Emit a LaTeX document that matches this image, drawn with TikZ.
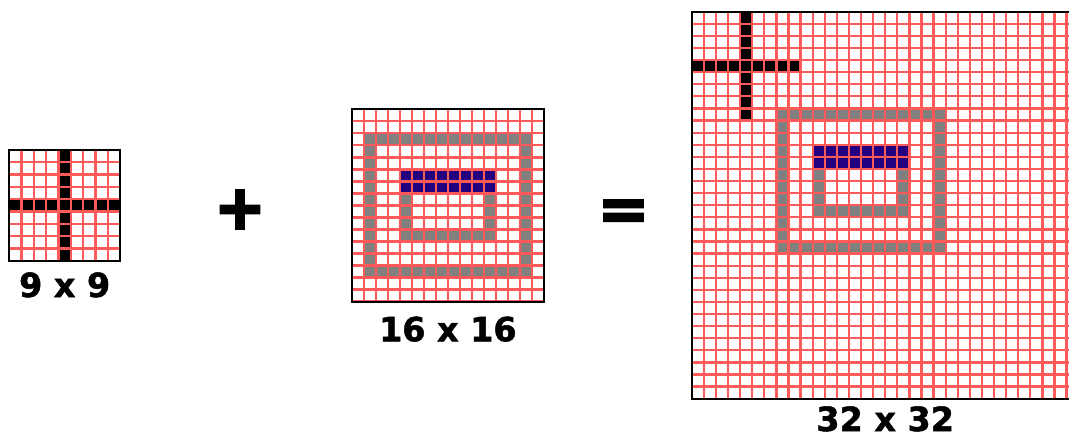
\documentclass[tikz,border=0pt]{standalone}
\usepackage{fontspec}
\setmainfont{DejaVu Sans}
\newfontfamily\labelfont[FakeBold=1.5]{DejaVu Sans Bold}
\newfontfamily\signfont[FakeBold=4]{DejaVu Sans Bold}
\usetikzlibrary{positioning}
\definecolor{gridred}{RGB}{255,90,90}
\definecolor{cellwhite}{RGB}{254,254,254}
\definecolor{ringgray}{RGB}{128,128,128}
\definecolor{barblue}{RGB}{34,0,128}

\newcommand{\crossmark}{%
  \foreach \k in {0,...,8} {
    \fill[black] (4,\k) rectangle ++(1,1);
    \fill[black] (\k,4) rectangle ++(1,1);
  }}
\newcommand{\framemark}{%
  \fill[ringgray] (1,2) rectangle (15,3) (1,13) rectangle (15,14)
                  (1,2) rectangle (2,14) (14,2) rectangle (15,14)
                  (4,7) rectangle (5,11) (11,7) rectangle (12,11)
                  (4,10) rectangle (12,11);
  \fill[barblue] (4,5) rectangle (12,7);}
\newcommand{\cellgrid}[1]{%
  \foreach \k in {0,...,#1} {
    \draw[cellline] (\k,0) -- (\k,#1);
    \draw[cellline] (0,\k) -- (#1,\k);
  }
  \draw[cellborder] (0,0) rectangle (#1,#1);}

\begin{document}
\begin{tikzpicture}[
      x=0.75pt, y=-0.75pt,
      cellline/.style={draw=gridred, line width=1.7pt},
      cellborder/.style={draw=black, line width=1.6pt},
      lbl/.style={inner sep=0pt, font=\fontsize{25}{28}\labelfont},
      sign/.style={inner sep=0pt, font=\fontsize{46}{50}\signfont}
    ]
    \useasboundingbox (0,0) rectangle (1069,436);
    \clip (0,0) rectangle (1069,436);

    \begin{scope}[shift={(9.3,150)}, x=9.225pt, y=-9.225pt]
      \fill[cellwhite] (0,0) rectangle (9,9);
      \crossmark
      \cellgrid{9}
      \coordinate (g9) at (4.5,9);
    \end{scope}

    \begin{scope}[shift={(351.7,109.3)}, x=9.015pt, y=-9.015pt]
      \fill[cellwhite] (0,0) rectangle (16,16);
      \framemark
      \cellgrid{16}
      \coordinate (g16) at (8,16);
    \end{scope}

    \begin{scope}[shift={(691.7,11.7)}, x=9.07pt, y=-9.07pt]
      \fill[cellwhite] (0,0) rectangle (32,32);
      \crossmark
      \begin{scope}[shift={(6,6)}]
        \framemark
      \end{scope}
      \cellgrid{32}
      \coordinate (g32) at (16,32);
    \end{scope}

    \node[lbl, below=8.5pt of g9]  (l9)  {9 x 9};
    \node[lbl, below=11pt of g16]  (l16) {16 x 16};
    \node[lbl, below=5.5pt of g32] (l32) {32 x 32};

    \node[sign] (plus)   at (240,209.5) {+};
    \node[sign] (equals) at (623.5,215) {=};
  \end{tikzpicture}
\end{document}
